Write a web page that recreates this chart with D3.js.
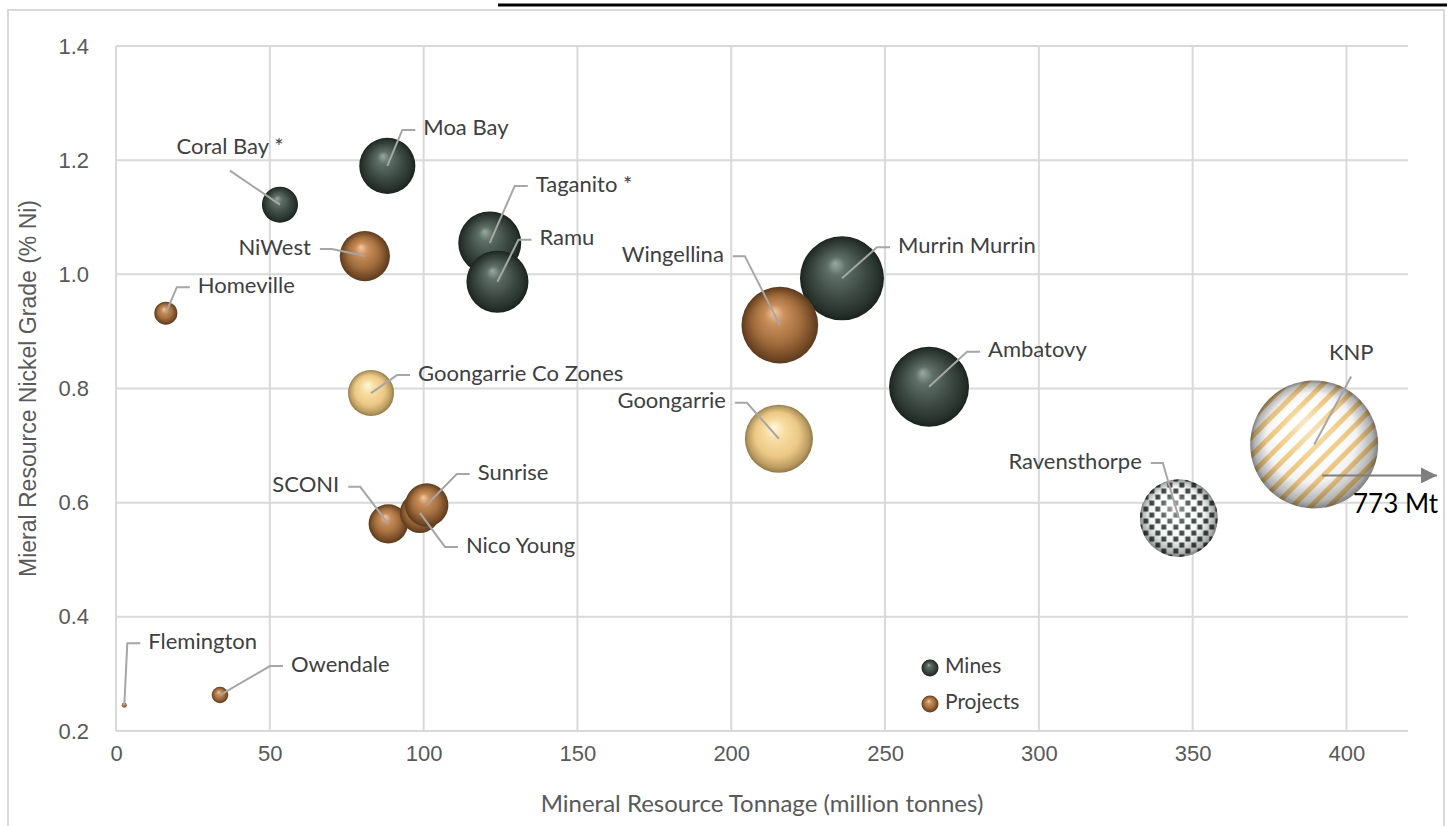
<!DOCTYPE html>
<html>
<head>
<meta charset="utf-8">
<script src="https://cdn.jsdelivr.net/npm/d3@7"></script>
<style>
  body { margin: 0; background: #fff; }
  svg { display: block; font-family: Lato, 'Open Sans', sans-serif; }
  .tick-label { fill: #595959; font-size: 22px; }
  .bubble-label { fill: #404040; font-size: 22px; }
  .leader { stroke: #a6a6a6; stroke-width: 2; fill: none; }
</style>
</head>
<body>
<svg width="1455" height="826"></svg>
<script>
// deposits, in drawing order (mines first, then projects, then the special ones)
const names = ['Coral Bay *', 'Moa Bay', 'Taganito *', 'Ramu', 'Murrin Murrin', 'Ambatovy',
               'Flemington', 'Owendale', 'Homeville', 'NiWest', 'SCONI', 'Nico Young', 'Sunrise', 'Wingellina',
               'Goongarrie Co Zones', 'Goongarrie', 'Ravensthorpe', 'KNP'];
const tonnage = [53.3, 88.2, 121.5, 124, 236, 264.3,
                 2.7, 33.8, 16.2, 80.9, 88.5, 98.8, 101, 215.8,
                 82.9, 215.5, 345.5, 389.5];
const grade = [1.122, 1.19, 1.055, 0.987, 0.993, 0.803,
               0.245, 0.263, 0.932, 1.032, 0.563, 0.582, 0.596, 0.911,
               0.792, 0.712, 0.573, 0.702];
// bubble size = contained nickel (Mt Ni)
const containedNi = [0.43, 1.04, 1.31, 1.27, 2.33, 2.11,
                     0.008, 0.09, 0.175, 0.83, 0.51, 0.53, 0.62, 1.94,
                     0.70, 1.53, 2.0, 5.41];
const kind = ['mine', 'mine', 'mine', 'mine', 'mine', 'mine',
              'project', 'project', 'project', 'project', 'project', 'project', 'project', 'project',
              'yellow', 'yellow', 'checker', 'stripe'];
const xTicks = [0, 50, 100, 150, 200, 250, 300, 350, 400];
const yTicks = [0.2, 0.4, 0.6, 0.8, 1.0, 1.2, 1.4];
const legendItems = ['Mines', 'Projects'];
const knpActual = 773;

// label placement: elbow offset from bubble centre (px) and which side the text sits
const labelLayout = {
  'Coral Bay *': {ex: -50, ey: -34, side: 'top'},
  'Moa Bay': {ex: 15, ey: -36, side: 'r'},
  'Taganito *': {ex: 25, ey: -57, side: 'r'},
  'Ramu': {ex: 21, ey: -42, side: 'r'},
  'Murrin Murrin': {ex: 35, ey: -31, side: 'r'},
  'Ambatovy': {ex: 38, ey: -35, side: 'r'},
  'Flemington': {ex: 3, ey: -62, side: 'r'},
  'Owendale': {ex: 50, ey: -29, side: 'r'},
  'Homeville': {ex: 11, ey: -26, side: 'r'},
  'NiWest': {ex: -33, ey: -7, side: 'l'},
  'SCONI': {ex: -28, ey: -37, side: 'l'},
  'Nico Young': {ex: 25, ey: 34, side: 'r'},
  'Sunrise': {ex: 30, ey: -31, side: 'r'},
  'Wingellina': {ex: -35, ey: -69, side: 'l'},
  'Goongarrie Co Zones': {ex: 26, ey: -18, side: 'r'},
  'Goongarrie': {ex: -32, ey: -36, side: 'l'},
  'Ravensthorpe': {ex: -16, ey: -55, side: 'l'},
  'KNP': {ex: 37, ey: -68, side: 'top'}
};

const data = names.map((n, i) => ({name: n, x: tonnage[i], y: grade[i], size: containedNi[i], kind: kind[i]}));

const svg = d3.select('svg');
const defs = svg.append('defs');

// sphere gradients
function sphereGradient(id, stops){
  const g = defs.append('radialGradient')
    .attr('id', id)
    .attr('cx', '0.5').attr('cy', '0.5').attr('r', '0.5')
    .attr('fx', '0.42').attr('fy', '0.32');
  stops.forEach(s => g.append('stop').attr('offset', s[0]).attr('stop-color', s[1]).attr('stop-opacity', s[2] === undefined ? 1 : s[2]));
}
sphereGradient('g-mine', [[0, '#9aaba1'], [0.22, '#5f7068'], [0.6, '#3d4b44'], [0.88, '#28322c'], [1, '#1b221e']]);
sphereGradient('g-project', [[0, '#f6caa0'], [0.25, '#c98f5c'], [0.62, '#a26d3d'], [0.88, '#744a26'], [1, '#5b3a1d']]);
sphereGradient('g-yellow', [[0, '#fff8dc'], [0.28, '#f8dea4'], [0.65, '#ecc886'], [0.9, '#b89a60'], [1, '#927847']]);
sphereGradient('g-shade', [[0, '#ffffff', 0.55], [0.45, '#ffffff', 0.05], [0.7, '#000000', 0.05], [0.92, '#000000', 0.3], [1, '#000000', 0.5]]);

// checker pattern (Ravensthorpe)
const checker = defs.append('pattern')
  .attr('id', 'p-checker')
  .attr('patternUnits', 'userSpaceOnUse')
  .attr('width', 12).attr('height', 12);
checker.append('rect').attr('width', 12).attr('height', 12).attr('fill', '#fff');
checker.append('rect').attr('x', 0.5).attr('y', 0.5).attr('width', 5).attr('height', 5).attr('fill', '#3e4c45');
checker.append('rect').attr('x', 6.5).attr('y', 6.5).attr('width', 5).attr('height', 5).attr('fill', '#3e4c45');

// diagonal stripes (KNP)
const stripe = defs.append('pattern')
  .attr('id', 'p-stripe')
  .attr('patternUnits', 'userSpaceOnUse')
  .attr('width', 13).attr('height', 13)
  .attr('patternTransform', 'rotate(45)');
stripe.append('rect').attr('width', 13).attr('height', 13).attr('fill', '#fff');
stripe.append('rect').attr('width', 5).attr('height', 13).attr('fill', '#f2cc85');

// outer frame and the cut off rule at the top
svg.append('rect')
  .attr('x', 8).attr('y', 10).attr('width', 1436).attr('height', 840)
  .attr('fill', 'none').attr('stroke', '#d9d9d9').attr('stroke-width', 2);
svg.append('line')
  .attr('x1', 498).attr('x2', 1447).attr('y1', 5).attr('y2', 5)
  .attr('stroke', '#000').attr('stroke-width', 3);

// scales
const x = d3.scaleLinear().domain([0, 420]).range([116, 1408]);
const y = d3.scaleLinear().domain([0.2, 1.4]).range([731, 46]);
const r = d3.scaleSqrt().domain([0, d3.max(containedNi)]).range([0, 64]);

// gridlines
const grid = svg.append('g').attr('stroke', '#d9d9d9').attr('stroke-width', 2);
grid.selectAll('line.h').data(yTicks).enter().append('line')
  .attr('class', 'h')
  .attr('x1', x(0)).attr('x2', x.range()[1])
  .attr('y1', d => y(d)).attr('y2', d => y(d));
grid.selectAll('line.v').data(xTicks).enter().append('line')
  .attr('class', 'v')
  .attr('x1', d => x(d)).attr('x2', d => x(d))
  .attr('y1', y(1.4)).attr('y2', y(0.2));

// axes (labels only)
const xAxis = svg.append('g')
  .attr('transform', 'translate(0,' + y(0.2) + ')')
  .call(d3.axisBottom(x).tickValues(xTicks).tickSize(0).tickPadding(14));
const yAxis = svg.append('g')
  .attr('transform', 'translate(' + x(0) + ',0)')
  .call(d3.axisLeft(y).tickValues(yTicks).tickFormat(d3.format('.1f')).tickSize(0).tickPadding(27));
[xAxis, yAxis].forEach(a => {
  a.select('.domain').remove();
  a.selectAll('text').attr('class', 'tick-label').attr('font-family', null).attr('font-size', null).attr('fill', null);
});

// axis titles
svg.append('text')
  .attr('x', (x(0) + x.range()[1]) / 2).attr('y', 806)
  .attr('text-anchor', 'middle').attr('dominant-baseline', 'middle')
  .attr('fill', '#595959').style('font-size', '24px')
  .text('Mineral Resource Tonnage (million tonnes)');
svg.append('text')
  .attr('transform', 'translate(30,' + ((y(0.2) + y(1.4)) / 2) + ') rotate(-90)')
  .attr('text-anchor', 'middle').attr('dominant-baseline', 'middle')
  .attr('fill', '#595959').style('font-size', '23px').style('font-family', "'Liberation Sans', Arial, sans-serif")
  .text('Mieral Resource Nickel Grade (% Ni)');

// bubbles
const fills = {mine: 'url(#g-mine)', project: 'url(#g-project)', yellow: 'url(#g-yellow)', checker: 'url(#p-checker)', stripe: 'url(#p-stripe)'};
const bubbles = svg.append('g').selectAll('g').data(data).enter().append('g')
  .attr('transform', d => 'translate(' + x(d.x) + ',' + y(d.y) + ')');
bubbles.append('circle')
  .attr('r', d => r(d.size))
  .attr('fill', d => fills[d.kind]);
// extra shading for the patterned spheres
bubbles.filter(d => d.kind === 'checker' || d.kind === 'stripe')
  .append('circle')
  .attr('r', d => r(d.size))
  .attr('fill', 'url(#g-shade)');

// leader lines and labels
const labels = svg.append('g');
data.forEach(d => {
  const L = labelLayout[d.name];
  const cx = x(d.x), cy = y(d.y);
  const ex = cx + L.ex, ey = cy + L.ey;
  let path, tx, ty, anchor;
  if (L.side === 'r'){
    path = [[cx, cy], [ex, ey], [ex + 13, ey]];
    tx = ex + 21; ty = ey; anchor = 'start';
  } else if (L.side === 'l'){
    path = [[cx, cy], [ex, ey], [ex - 12, ey]];
    tx = ex - 21; ty = ey; anchor = 'end';
  } else {
    path = [[cx, cy], [ex, ey]];
    tx = ex; ty = ey - 22; anchor = 'middle';
  }
  labels.append('path').attr('class', 'leader').attr('d', d3.line()(path));
  labels.append('text')
    .attr('class', 'bubble-label')
    .attr('x', tx).attr('y', ty)
    .attr('text-anchor', anchor).attr('dominant-baseline', 'middle')
    .text(d.name);
});

// KNP is off the scale: arrow plus real tonnage
const knp = data.find(d => d.name === 'KNP');
defs.append('marker')
  .attr('id', 'arrow')
  .attr('viewBox', '0 0 10 10').attr('refX', 10).attr('refY', 5)
  .attr('markerUnits', 'userSpaceOnUse')
  .attr('markerWidth', 16).attr('markerHeight', 16)
  .attr('orient', 'auto')
  .append('path').attr('d', 'M0,0 L10,5 L0,10 Z').attr('fill', '#7f7f7f');
svg.append('line')
  .attr('x1', x(knp.x) + 8).attr('x2', x.range()[1] + 29)
  .attr('y1', y(knp.y) + 31).attr('y2', y(knp.y) + 31)
  .attr('stroke', '#7f7f7f').attr('stroke-width', 2)
  .attr('marker-end', 'url(#arrow)');
svg.append('text')
  .attr('x', x.range()[1] + 30).attr('y', y(knp.y) + 62)
  .attr('text-anchor', 'end').attr('dominant-baseline', 'middle')
  .attr('fill', '#000').style('font-size', '26px')
  .text(knpActual + ' Mt');

// legend
const legend = svg.append('g').attr('transform', 'translate(930,668)')
  .selectAll('g').data(legendItems).enter().append('g')
  .attr('transform', (d, i) => 'translate(0,' + (i * 36) + ')');
legend.append('circle').attr('r', 8.5)
  .attr('fill', (d, i) => i === 0 ? 'url(#g-mine)' : 'url(#g-project)');
legend.append('text')
  .attr('class', 'bubble-label')
  .attr('x', 15).attr('dominant-baseline', 'middle')
  .style('font-size', '21px')
  .text(d => d);
</script>
</body>
</html>
